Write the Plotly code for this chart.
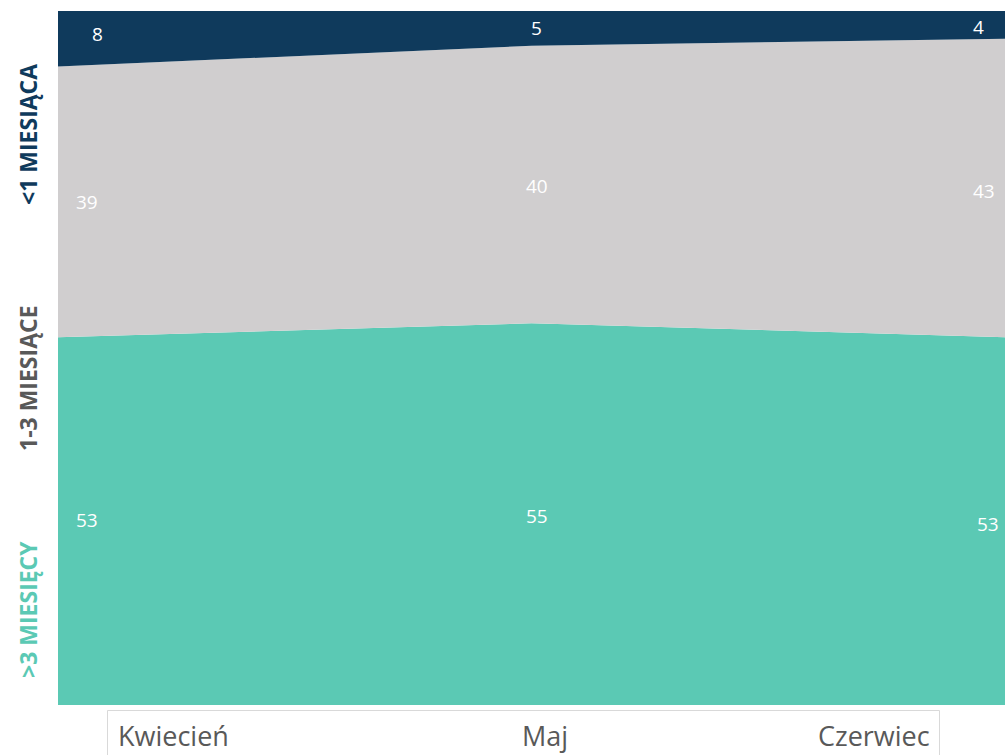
import plotly.graph_objects as go

# Monthly shares (%) by duration bucket
months = ["Kwiecień", "Maj", "Czerwiec"]
over_3 = [53, 55, 53]        # >3 miesięcy
one_to_3 = [39, 40, 43]      # 1-3 miesiące
under_1 = [8, 5, 4]          # <1 miesiąca

series_names = [">3 MIESIĘCY", "1-3 MIESIĄCE", "<1 MIESIĄCA"]
series_values = [over_3, one_to_3, under_1]
fill_colors = ["#5bc9b4", "#d0cecf", "#0f3a5c"]
side_label_colors = ["#5bc9b4", "#595959", "#0f3a5c"]

W, H = 1005, 755
M_L, M_R, M_T, M_B = 58, 0, 11, 50
PW, PH = W - M_L - M_R, H - M_T - M_B


def px_to_paper_x(px):
    return (px - M_L) / PW


def px_to_paper_y(py):
    return (H - M_B - py) / PH


fig = go.Figure()
xs = list(range(len(months)))
for name, vals, col in zip(series_names, series_values, fill_colors):
    fig.add_trace(go.Scatter(
        x=xs, y=vals, name=name, mode="none",
        stackgroup="one", fillcolor=col, line=dict(width=0),
        hoverinfo="skip", showlegend=False,
    ))

# value labels centred in each band (small per-series nudges)
annotations = []
x_shifts = [[29, 5, -17], [29, 5, -21], [39, 5, -27]]
y_shifts = [[1, -2, -3], [0, -1, -3], [5, 0, -2]]
base = [0] * len(months)
for s, vals in enumerate(series_values):
    for i, v in enumerate(vals):
        annotations.append(dict(
            x=xs[i], y=base[i] + v / 2, xref="x", yref="y",
            text=str(v), showarrow=False,
            xshift=x_shifts[s][i], yshift=y_shifts[s][i],
            font=dict(family="Open Sans", size=19, color="white"),
        ))
        base[i] += v

# rotated series labels on the left
side_centres = [610, 378, 135]
for name, col, cy in zip(series_names, side_label_colors, side_centres):
    annotations.append(dict(
        x=px_to_paper_x(28), y=px_to_paper_y(cy), xref="paper", yref="paper",
        text=f"<b>{name}</b>", textangle=-90, showarrow=False,
        xanchor="center", yanchor="middle",
        font=dict(family="Open Sans", size=23, color=col),
    ))

# month labels in a framed strip below the plot
month_pos = [(116, "left"), (545, "center"), (932, "right")]
for m, (px, anchor) in zip(months, month_pos):
    annotations.append(dict(
        x=px_to_paper_x(px), y=px_to_paper_y(735), xref="paper", yref="paper",
        text=m, showarrow=False, xanchor=anchor, yanchor="middle",
        font=dict(family="Open Sans", size=27, color="#595959"),
    ))

shapes = [dict(
    type="rect", xref="paper", yref="paper",
    x0=px_to_paper_x(107.5), x1=px_to_paper_x(939.5),
    y0=px_to_paper_y(710.5), y1=px_to_paper_y(770),
    line=dict(color="#d9d9d9", width=1), fillcolor="rgba(0,0,0,0)",
)]

fig.update_layout(
    width=W, height=H,
    margin=dict(l=M_L, r=M_R, t=M_T, b=M_B),
    paper_bgcolor="white", plot_bgcolor="white",
    xaxis=dict(range=[0, len(months) - 1], visible=False, fixedrange=True),
    yaxis=dict(range=[0, 100], visible=False, fixedrange=True),
    annotations=annotations, shapes=shapes,
)

fig.write_html("out.html")
